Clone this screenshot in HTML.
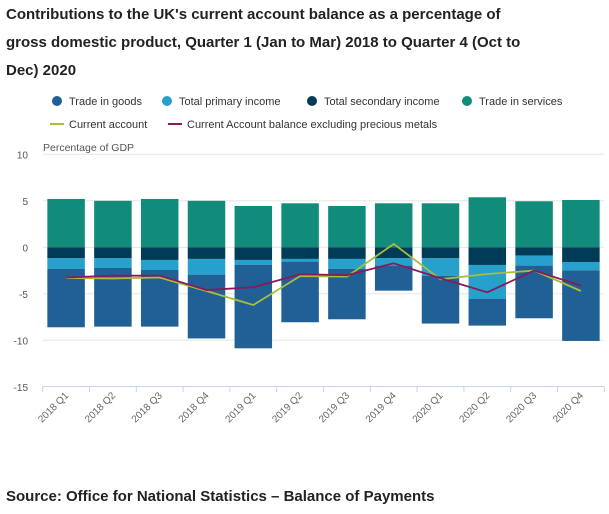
<!DOCTYPE html>
<html><head><meta charset="utf-8"><style>
body{margin:0;background:#fff;font-family:"Liberation Sans",sans-serif;}
#wrap{position:relative;width:609px;height:514px;overflow:hidden;}
.title{position:absolute;left:6px;top:1px;width:600px;font-weight:bold;font-size:15px;line-height:28px;color:#222;white-space:nowrap;}
.src{position:absolute;left:6px;top:488px;font-weight:bold;font-size:15px;color:#222;}
</style></head><body>
<div id="wrap">
<div class="title">Contributions to the UK's current account balance as a percentage of<br>gross domestic product, Quarter 1 (Jan to Mar) 2018 to Quarter 4 (Oct to<br>Dec) 2020</div>
<svg id="chart" width="609" height="514" style="position:absolute;left:0;top:0"></svg>
<div class="src">Source: Office for National Statistics – Balance of Payments</div>
</div>
<script>
const categories=["2018 Q1","2018 Q2","2018 Q3","2018 Q4","2019 Q1","2019 Q2","2019 Q3","2019 Q4","2020 Q1","2020 Q2","2020 Q3","2020 Q4"];
const services=[5.2,5.0,5.2,5.0,4.44,4.73,4.44,4.73,4.73,5.38,4.95,5.09];
const secondary=[-1.18,-1.18,-1.36,-1.25,-1.36,-1.25,-1.25,-1.18,-1.18,-1.9,-0.9,-1.58];
const primary=[-1.15,-1.04,-1.08,-1.69,-0.54,-0.29,-1.08,-0.79,-1.9,-3.66,-1.07,-0.89];
const goods=[-6.27,-6.31,-6.09,-6.86,-8.96,-6.52,-5.41,-2.69,-5.12,-2.86,-5.66,-7.6];
const currentAccount=[-3.3,-3.35,-3.25,-4.7,-6.2,-3.1,-3.15,0.36,-3.44,-2.87,-2.5,-4.7];
const excludingMetals=[-3.25,-3.05,-3.05,-4.6,-4.3,-2.9,-3.0,-1.72,-3.33,-4.84,-2.5,-4.12];
const yTicks=[10,5,0,-5,-10,-15];

const svg=document.getElementById('chart');
const NS='http://www.w3.org/2000/svg';
const x0=42.7,band=46.8,bw=37.5;
const y=v=>247.3-v*9.3;
const xc=i=>x0+band*i+band/2;
function mk(t,a,p){const e=document.createElementNS(NS,t);for(const k in a)e.setAttribute(k,a[k]);(p||svg).appendChild(e);return e;}
yTicks.forEach(t=>{
  if(t!==-15){const g=mk('line',{x1:x0,x2:604,y1:y(t),y2:y(t),stroke:'#e6e6e6','stroke-width':1});
  
  }
  const l=mk('text',{x:28,y:y(t)+4,'text-anchor':'end','font-size':10,fill:'#555'});l.textContent=t;
  
  
});
const yt=mk('text',{x:43,y:151,'font-size':10.5,fill:'#555'});yt.textContent='Percentage of GDP';


const ax=mk('line',{x1:x0,x2:604,y1:386.5,y2:386.5,stroke:'#c8d4e8'});


for(let i=0;i<=categories.length;i++){const tk=mk('line',{x1:x0+band*i,x2:x0+band*i,y1:386.5,y2:392,stroke:'#c8d4e8'});

}
categories.forEach((c,i)=>{const t=mk('text',{x:xc(i)+3,y:396,'text-anchor':'end','font-size':10,fill:'#666',transform:`rotate(-45 ${xc(i)+3} 396)`});t.textContent=c;

});
const cols={services:'#118c7b',secondary:'#003c57',primary:'#27a0cc',goods:'#206095'};
categories.forEach((c,i)=>{
  const r=mk('rect',{x:xc(i)-bw/2,y:y(services[i]),width:bw,height:y(0)-y(services[i]),fill:cols.services});
  
  
  let base=0;
  [['secondary',secondary],['primary',primary],['goods',goods]].forEach(([k,arr])=>{
    const nb=base+arr[i];
    const b=mk('rect',{x:xc(i)-bw/2,y:y(base),width:bw,height:y(nb)-y(base),fill:cols[k]});
    
    
    base=nb;
  });
});
function line(arr,col,name){const p=mk('polyline',{points:arr.map((v,i)=>xc(i)+','+y(v)).join(' '),fill:'none',stroke:col,'stroke-width':1.8});

}
line(currentAccount,'#a8bd3a','line-current-account');
line(excludingMetals,'#871a5b','line-excluding-precious-metals');
const leg=[['Trade in goods',cols.goods,57],['Total primary income',cols.primary,167],['Total secondary income',cols.secondary,312],['Trade in services',cols.services,467]];
leg.forEach(([t,c,x])=>{const ci=mk('circle',{cx:x,cy:101,r:5,fill:c});


const tx=mk('text',{x:x+12,y:105,'font-size':11,fill:'#333'});tx.textContent=t;

});
[['Current account','#a8bd3a',50],['Current Account balance excluding precious metals','#871a5b',168]].forEach(([t,c,x])=>{
const l=mk('line',{x1:x,x2:x+14,y1:124,y2:124,stroke:c,'stroke-width':2});


const tx=mk('text',{x:x+19,y:128,'font-size':11,fill:'#333'});tx.textContent=t;

});
</script>
</body></html>
